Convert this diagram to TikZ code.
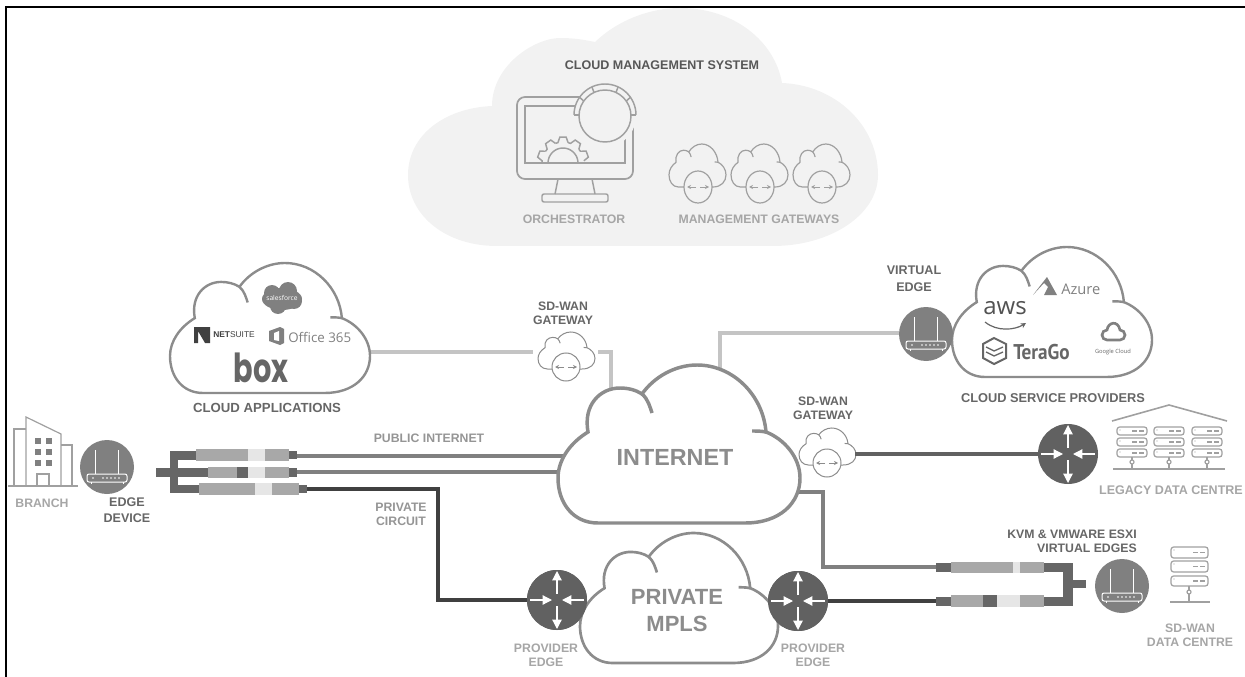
\documentclass[tikz,border=0pt]{standalone}
\usepackage{fontspec}
\usepackage{graphicx}
\setmainfont{Liberation Sans}
\newfontfamily\logofont{Open Sans}
\newfontfamily\boxfont{Poppins}
\newfontfamily\narrowfont{PT Sans}
\usetikzlibrary{arrows.meta,shapes.geometric}
\definecolor{cldline}{HTML}{8C8C8C}
\definecolor{mgmt}{HTML}{F2F2F2}
\definecolor{txtdark}{HTML}{666666}
\definecolor{txtlight}{HTML}{A6A6A6}
\definecolor{routerc}{HTML}{616161}
\definecolor{edgec}{HTML}{808080}
\definecolor{segmid}{HTML}{A8A8A8}
\definecolor{seglight}{HTML}{E6E6E6}
\definecolor{segdark}{HTML}{666666}
\definecolor{wirelight}{HTML}{C4C4C4}
\definecolor{wiremid}{HTML}{808080}
\definecolor{wiredark}{HTML}{404040}
\definecolor{iconline}{HTML}{A0A0A0}
\tikzset{
  lab/.style={font=\bfseries\fontsize{9.2}{10.6}\selectfont,inner sep=0pt,align=center},
  darklab/.style={lab,text=txtdark},
  lightlab/.style={lab,text=txtlight},
  biglab/.style={font=\bfseries\fontsize{17.5}{20.3}\selectfont,text=cldline,inner sep=0pt,align=center},
  wire l/.style={draw=wirelight,line width=2.6pt},
  wire m/.style={draw=wiremid,line width=2.6pt},
  wire d/.style={draw=wiredark,line width=2.6pt},
  router/.style={circle,fill=routerc,minimum size=45pt,inner sep=0pt},
  edgedev/.style={circle,fill=edgec,minimum size=40.5pt,inner sep=0pt},
  gwcirc/.style={circle,draw=cldline,fill=white,line width=.75pt,minimum size=21pt,inner sep=0pt},
  mgcirc/.style={ellipse,draw=iconline,fill=mgmt,line width=.9pt,minimum width=21pt,minimum height=24pt,inner sep=0pt},
  icon/.style={draw=iconline,line width=.9pt},
  whiteicon/.style={draw=white,line width=.75pt},
}
% cloud outline: #1 left #2 top #3 width #4 height #5 style
\newcommand\cloudat[5]{%
\begin{scope}[shift={(#1,#2)},xscale={#3/242},yscale={#4/158}]
\path[#5] (40,158) .. controls (15,158) and (0,138) .. (0,113)
 .. controls (0,95) and (12,78) .. (30,67)
 .. controls (25,40) and (42,23) .. (62,23)
 .. controls (70,23) and (78,25) .. (84,29)
 .. controls (96,12) and (117,0) .. (139,0)
 .. controls (175,0) and (205,30) .. (208,67)
 .. controls (226,74) and (242,92) .. (242,113)
 .. controls (242,138) and (222,158) .. (187,158) -- cycle;
\path[#5,fill=none] (84,29) .. controls (90,34) and (92,42) .. (94,48);
\path[#5,fill=none] (194,66) .. controls (198,66) and (203,66) .. (208,67);
\end{scope}}
% gateway: #1 name #2 cx #3 cy
\newcommand\gateway[3]{%
\cloudat{#2-28}{#3-35}{57}{37}{draw=cldline,fill=white,line width=.75pt}
\node[gwcirc] (#1) at (#2,#3) {};
\draw[cldline,line width=.6pt,-{Stealth[length=3pt,width=3pt]}] (#1.center) ++(-2,0) -- ++(-9,0);
\draw[cldline,line width=.6pt,-{Stealth[length=3pt,width=3pt]}] (#1.center) ++(2,0) -- ++(9,0);}
\newcommand\mgateway[3]{%
\cloudat{#2-29}{#3-43}{57}{43}{draw=iconline,fill=mgmt,line width=.9pt}
\node[mgcirc] (#1) at (#2,#3) {};
\draw[iconline,line width=.6pt,-{Stealth[length=3pt,width=3pt]}] (#1.center) ++(-2,0) -- ++(-9,0);
\draw[iconline,line width=.6pt,-{Stealth[length=3pt,width=3pt]}] (#1.center) ++(2,0) -- ++(9,0);}
% router arrows
\newcommand\routerarrows[1]{%
\begin{scope}[shift={(#1.center)}]
\foreach \sx/\sy/\ex/\ey in {0/-6/0/-29,0/6/0/29,-27/0/-5/0,27/0/5/0}
 \draw[white,line width=.9pt,-{Triangle[length=7pt,width=7pt]}] (\sx,\sy) -- (\ex,\ey);
\end{scope}}
% edge icon
\newcommand\edgeicon[1]{%
\begin{scope}[shift={(#1.center)}]
\draw[whiteicon,rounded corners=1.5pt] (-20,7) rectangle (20,15);
\draw[whiteicon] (-12,7) -- (-12,-17) (11,7) -- (11,-17) (-16,15) -- (-16,17) (16,15) -- (16,17);
\foreach \dx in {-14,-4,0,4,8,12} \fill[white] (\dx,11) circle (.9);
\end{scope}}
% tunnel segment
\newcommand\seg[5]{\fill[#5] (#1,#3) rectangle (#2,#4);}
% server box
\newcommand\srv[4]{%
\draw[icon,rounded corners=2pt] (#1,#3) rectangle (#2,#4);
\draw[icon] (#2-15,{(#3+#4)/2}) -- ++(5,0) (#2-8,{(#3+#4)/2}) -- ++(5,0);
\fill[iconline] (#1+3,#3+3) circle (.7);}
\begin{document}
\begin{tikzpicture}[x=0.75pt,y=-0.75pt]
\useasboundingbox (0,0) rectangle (1245,677);
% frame
\coordinate (fa) at (6,677); \coordinate (fb) at (6,7); \coordinate (fc) at (1245,7);
\draw[black,line width=1.6pt] (fa) -- (fb) -- (fc);
% management cloud
\path[fill=mgmt] (497,246) .. controls (445,246) and (408,215) .. (408,175)
 .. controls (408,135) and (445,108) .. (492,106)
 .. controls (492,65) and (535,38) .. (560,38)
 .. controls (575,38) and (585,40) .. (595,42)
 .. controls (618,20) and (650,8) .. (680,8)
 .. controls (735,8) and (775,42) .. (782,83)
 .. controls (835,85) and (878,125) .. (878,175)
 .. controls (878,215) and (830,246) .. (773,246) -- cycle;
\node[lab,text=txtdark!85!black,font=\bfseries\fontsize{9.4}{11}\selectfont] (cms) at (662,65) {CLOUD MANAGEMENT SYSTEM};
% orchestrator
\draw[icon,line width=1.3pt,rounded corners=6pt] (517,97) rectangle (633,179);
\draw[icon,line width=1.1pt] (525,106) rectangle (625,163);
\foreach \a in {20,55,90,125,160}
 \draw[icon,line width=1.1pt] ({563+21*cos(\a-14)},{163-21*sin(\a-14)}) -- ({563+26*cos(\a-7)},{163-26*sin(\a-7)}) -- ({563+26*cos(\a+7)},{163-26*sin(\a+7)}) -- ({563+21*cos(\a+14)},{163-21*sin(\a+14)}) -- ({563+21*cos(\a+21)},{163-21*sin(\a+21)});
\draw[icon,line width=1.1pt] (548,163) arc (180:360:15);
\path[fill=mgmt] (605,116) circle (31);
\draw[icon,line width=1.1pt] (574,115) arc (180:360:31);
\draw[icon,line width=1.1pt] (574,115) -- (579,115) (636,115) -- (631,115);
\foreach \a in {35,65,115,145} \draw[icon,line width=1.1pt] ({605+26*cos(\a)},{116-26*sin(\a)}) -- ({605+31*cos(\a)},{115-31*sin(\a)});
\draw[icon,line width=1.1pt] (605,116) circle (26);
\draw[icon,line width=1.1pt] (558,179) -- (555,194) (592,179) -- (595,194);
\draw[icon,line width=1.1pt,rounded corners=1.5pt] (542,194) rectangle (608,202);
\node[lightlab] (orch) at (574,219) {ORCHESTRATOR};
\mgateway{mg1}{698}{187}
\mgateway{mg2}{760}{187}
\mgateway{mg3}{822}{187}
\node[lightlab] (mgw) at (759,219) {MANAGEMENT GATEWAYS};
% wires
\coordinate (appsE) at (370,352); \coordinate (gw1W) at (533,352);
\coordinate (gw1E) at (598,352); \coordinate (inetT1) at (611,395);
\coordinate (inetT2) at (720,370);
\coordinate (vedgeW) at (899,333);
\coordinate (t1E) at (297,456); \coordinate (inetW1) at (565,456);
\coordinate (t2E) at (297,472); \coordinate (inetW2) at (565,472);
\coordinate (t3E) at (307,489);
\coordinate (inetE) at (795,492);
\coordinate (rt) at (936,567); \coordinate (rb) at (936,601);
\coordinate (mplsE) at (826,601);
\draw[wire l] (appsE) -- (gw1W);
\draw[wire l] (gw1E) -| (inetT1);
\draw[wire l] (inetT2) |- (vedgeW);
\draw[wire m,line width=3pt] (t1E) -- (inetW1);
\draw[wire m,line width=2.6pt] (t2E) -- (inetW2);
\draw[wire m] (inetE) -| (823,567) -- (rt);
% tunnels left
\seg{156}{172}{468}{477}{segdark}
\seg{170}{178}{451}{493}{segdark}
\seg{170}{196}{451}{460}{segdark}
\seg{170}{208}{468}{477}{segdark}
\seg{170}{199}{485}{493}{segdark}
\seg{196}{248}{449}{461}{segmid}\seg{248}{265}{449}{461}{seglight}\seg{265}{289}{449}{461}{segmid}\seg{289}{297}{451}{459}{segdark}
\seg{208}{237}{467}{478}{segmid}\seg{237}{248}{467}{478}{segdark}\seg{248}{265}{467}{478}{seglight}\seg{265}{289}{467}{478}{segmid}\seg{289}{297}{468}{477}{segdark}
\seg{199}{255}{483}{495}{segmid}\seg{255}{272}{483}{495}{seglight}\seg{272}{299}{483}{495}{segmid}\seg{299}{307}{485}{493}{segdark}
% tunnels right
\seg{936}{951}{563}{572}{segdark}\seg{951}{1013}{562}{573}{segmid}\seg{1013}{1020}{562}{573}{seglight}\seg{1020}{1044}{562}{573}{segmid}\seg{1044}{1072}{563}{572}{segdark}
\seg{936}{951}{597}{606}{segdark}\seg{951}{983}{595}{607}{segmid}\seg{983}{997}{595}{607}{segdark}\seg{997}{1020}{595}{607}{seglight}\seg{1020}{1044}{595}{607}{segmid}\seg{1044}{1072}{597}{606}{segdark}
\seg{1063}{1073}{563}{606}{segdark}
\seg{1073}{1086}{580}{588}{segdark}
% routers
\node[router] (pe1) at (557,600) {};
\node[router] (pe2) at (798,601) {};
\node[router] (ldc) at (1068,454) {};
\draw[wire d] (t3E) -| (438,600) -- (pe1);
\draw[wire d] (pe2) -- (rb);
\gateway{gw1}{566}{367}
\gateway{gw2}{827}{463}
\coordinate (gw2E) at (855,454);
\draw[draw=routerc,line width=3pt] (gw2E) -- (ldc);
% clouds
\cloudat{558}{365}{242}{158}{draw=cldline,fill=white,line width=2.6pt}
\cloudat{580}{533}{198}{130}{draw=cldline,fill=white,line width=2pt}
\cloudat{170}{263}{200}{130}{draw=cldline,fill=white,line width=1.8pt}
\cloudat{952}{247}{200}{130}{draw=cldline,fill=white,line width=1.8pt}
\node[router] at (pe1) {};
\node[router] at (pe2) {};
\routerarrows{pe1}\routerarrows{pe2}\routerarrows{ldc}
\node[biglab] (inet) at (675,457) {INTERNET};
\node[biglab,font=\bfseries\fontsize{16.5}{20.3}\selectfont] (mpls) at (677,611) {PRIVATE\\MPLS};
% edge devices
\node[edgedev] (edge) at (107,467) {};
\node[edgedev] (vedge) at (926,334) {};
\node[edgedev] (kvm) at (1122,586) {};
\edgeicon{edge}\edgeicon{vedge}\edgeicon{kvm}
% branch
\draw[icon] (8,486) -- (78,486);
\draw[icon] (14,486) -- (14,429) -- (26,429);
\draw[icon] (26,486) -- (26,417) -- (61,434) -- (61,486);
\draw[icon] (61,445) -- (72,445) -- (72,486);
\draw[icon] (37,486) -- (37,474) -- (49,474) -- (49,486);
\foreach \wy in {438,449,460} \foreach \wx in {35,46} \fill[iconline!80!black] (\wx,\wy) rectangle ++(5.5,5.5);
% legacy DC
\draw[icon,line width=1.2pt] (1112,421) -- (1169,405) -- (1227,421);
\foreach \cx in {1117,1154,1192} {
 \srv{\cx}{\cx+30}{427}{435}\srv{\cx}{\cx+30}{438}{446}\srv{\cx}{\cx+30}{449}{457}
 \draw[icon] (\cx+15,457) -- (\cx+15,460) (\cx+15,464) -- (\cx+15,469);
 \draw[icon] (\cx+15,462) circle (2);}
\draw[icon,line width=1.2pt] (1113,469) -- (1225,469);
% SD-WAN DC
\srv{1171}{1208}{547}{558}\srv{1171}{1208}{561}{572}\srv{1171}{1208}{576}{586}
\draw[icon] (1189,586) -- (1189,590) (1189,594) -- (1189,602);
\draw[icon] (1189,592) circle (2);
\draw[icon,line width=1.2pt] (1170,602) -- (1210,602);
% logos - apps
\fill[edgec] (282,299) ellipse (20 and 11);
\fill[edgec] (272,293) circle (8); \fill[edgec] (288,291) circle (9); \fill[edgec] (294,301) circle (8); \fill[edgec] (278,306) circle (8);
\node[text=white,inner sep=0pt,font=\logofont\fontsize{5}{6}\selectfont] (sf) at (282,298) {salesforce};
\fill[black!75] (194,327) -- (210,327) -- (210,343) -- (205,343) -- (198,331) -- (198,343) -- (194,343) -- cycle;
\node[anchor=west,inner sep=0pt,text=black!75,font=\fontsize{6.3}{8}\selectfont] (ns) at (213,335) {\textbf{NET}SUITE};
\fill[edgec] (269,331) -- (280,327) -- (284,329) -- (284,343) -- (280,345) -- (269,341) -- cycle;
\fill[white] (274,333) -- (279,331) -- (279,341) -- (274,340) -- cycle;
\node[anchor=west,inner sep=0pt,text=edgec,font=\logofont\fontsize{10}{14}\selectfont] (o365) at (288,337) {Office 365};
\node[anchor=base,inner sep=0pt,text=txtdark,font=\boxfont\bfseries\fontsize{30}{36}\selectfont] (box) at (261,382) {\scalebox{.72}[1]{box}};
% logos - providers
\fill[edgec] (1033,295) -- (1047,277) -- (1057,295) -- (1044,295) -- (1048,287) -- (1044,283) -- cycle;
\node[anchor=west,inner sep=0pt,text=edgec,font=\logofont\fontsize{11}{14}\selectfont] (az) at (1061,289) {Azure};
\node[inner sep=0pt,text=txtdark!80!black,font=\logofont\fontsize{18}{22}\selectfont] (aws) at (1005,308) {aws};
\draw[txtdark,line width=.9pt,-{Stealth[length=4pt,width=4pt]}] (985,322) .. controls (997,332) and (1015,330) .. (1026,323);
\draw[txtdark,line width=1.5pt] (994,338) -- (1006,344) -- (1006,358) -- (994,364) -- (983,358) -- (983,344) -- cycle;
\draw[txtdark,line width=1pt] (986,347) -- (994,351) -- (1003,347) (986,352) -- (994,356) -- (1003,352);
\node[anchor=west,inner sep=0pt,text=txtdark,font=\narrowfont\bfseries\fontsize{16}{18}\selectfont] (tg) at (1013,352) {\scalebox{.9}[1]{TeraGo}};
\draw[edgec,line width=2pt] (1107,340) arc (90:270:5) .. controls (1108,322) and (1118,320) .. (1120,330) arc (-90:90:5) -- cycle;
\node[inner sep=0pt,text=txtdark,font=\logofont\fontsize{4.3}{5}\selectfont] (gc) at (1113,352) {Google Cloud};
% labels
\node[darklab,font=\bfseries\fontsize{9.9}{11}\selectfont] (capps) at (267,408) {CLOUD APPLICATIONS};
\node[darklab] (gwl1) at (563,313) {SD-WAN\\GATEWAY};
\node[darklab,font=\bfseries\fontsize{9.4}{12.4}\selectfont] (vel) at (914,279) {VIRTUAL\\EDGE};
\node[darklab,font=\bfseries\fontsize{9.6}{11}\selectfont] (csp) at (1053,398) {CLOUD SERVICE PROVIDERS};
\node[darklab] (gwl2) at (823,408) {SD-WAN\\GATEWAY};
\node[lightlab,text=txtlight!90!black] (pub) at (429,438) {PUBLIC INTERNET};
\node[lightlab,text=txtlight!90!black] (prv) at (401,514) {PRIVATE\\CIRCUIT};
\node[lightlab] (br) at (42,503) {BRANCH};
\node[darklab,font=\bfseries\fontsize{9.4}{12}\selectfont] (edl) at (127,510) {EDGE\\DEVICE};
\node[lightlab] (pel1) at (546,655) {PROVIDER\\EDGE};
\node[lightlab] (pel2) at (813,655) {PROVIDER\\EDGE};
\node[lightlab,font=\bfseries\fontsize{9.4}{11}\selectfont] (ldcl) at (1171,490) {LEGACY DATA CENTRE};
\node[darklab,align=right,anchor=east] (kvml) at (1137,541) {KVM \& VMWARE ESXI\\VIRTUAL EDGES};
\node[lightlab] (sdl) at (1190,635) {SD-WAN\\DATA CENTRE};
\end{tikzpicture}
\end{document}
